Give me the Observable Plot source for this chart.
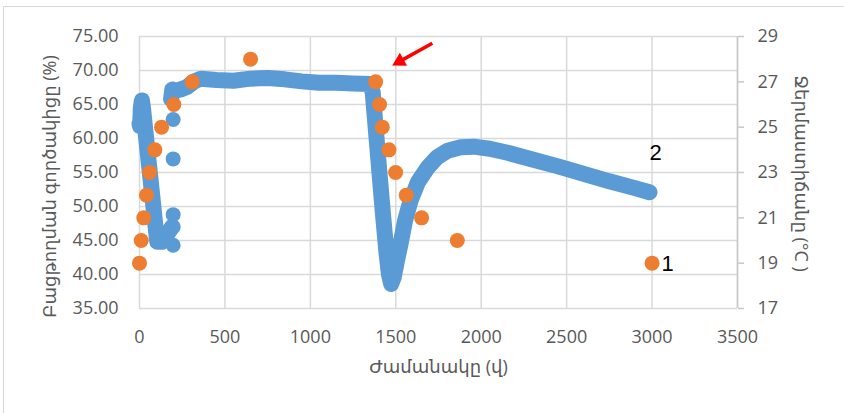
<!DOCTYPE html>
<html>
<head>
<meta charset="utf-8">
<script src="https://cdn.jsdelivr.net/npm/d3@7"></script>
<script src="https://cdn.jsdelivr.net/npm/@observablehq/plot@0.6"></script>
<style>
  html, body { margin: 0; padding: 0; background: #fff; overflow: hidden; }
  #wrap { position: relative; width: 844px; height: 413px; overflow: hidden; }
  #border { position: absolute; left: 3px; top: 6px; width: 900px; height: 500px; border: 1px solid #d9d9d9; pointer-events: none; }
</style>
</head>
<body>
<div id="wrap"><div id="chart"></div><div id="border"></div></div>
<script>
// ---- data ----
const xTicks = [0, 500, 1000, 1500, 2000, 2500, 3000, 3500];
const leftTicks = [35, 40, 45, 50, 55, 60, 65, 70, 75];
const rightTicks = [17, 19, 21, 23, 25, 27, 29];

// blue series (release coefficient, %) – first dense branch
const blueAx = [0, 3, 8, 14, 20, 30, 45, 60, 75, 90, 104, 130, 160, 190];
const blueAy = [62.2, 61.8, 64.5, 65.6, 64.6, 62.2, 58.6, 55.1, 51.5, 47.9, 44.8, 44.8, 45.8, 47.0];
// blue series – second dense branch
const blueBx = [185, 192, 205, 240, 280, 320, 360, 450, 550, 650, 750, 850, 950, 1050, 1150, 1250, 1350, 1365, 1385, 1405, 1425, 1445, 1460, 1473, 1488, 1505, 1528, 1555, 1587, 1630, 1686, 1740, 1803, 1880, 1956, 2050, 2155, 2300, 2450, 2600, 2750, 2900, 2985];
const blueBy = [65.8, 67.2, 67.0, 67.2, 67.6, 68.4, 68.8, 68.6, 68.5, 68.8, 68.9, 68.7, 68.4, 68.2, 68.2, 68.1, 68.0, 66.8, 60.8, 54.8, 48.9, 43.3, 40.0, 38.6, 39.6, 41.8, 44.5, 48.0, 50.9, 53.6, 55.7, 57.2, 58.2, 58.7, 58.8, 58.5, 57.9, 56.9, 55.9, 54.8, 53.7, 52.7, 52.1];
// isolated blue points
const blueDotX = [197, 197, 197, 197, 197];
const blueDotY = [44.3, 47.0, 48.8, 57.0, 62.8];

// orange series (temperature, °C)
const orangeX = [0, 10, 25, 41, 59, 90, 129, 201, 308, 650, 1382, 1405, 1421, 1460, 1499, 1561, 1651, 1860, 3000];
const orangeT = [19, 20, 21, 22, 23, 24, 25, 26, 27, 28, 27, 26, 25, 24, 23, 22, 21, 20, 19];

// annotations
const labelText = ["2", "1"];
const labelX = [3021, 3091];
const labelY = [57.9, 41.6];
const arrowX1 = [1714], arrowY1 = [74.0], arrowX2 = [1523], arrowY2 = [71.34];

const xTitle = "Ժամանակը (վ)";
const yTitle = "Բացթողման գործակիցը (%)";
const y2Title = "Ջերմաստիճանը (°C )";

// ---- helpers ----
const leftDom = [35, 75], rightDom = [17, 29];
const toLeft = t => leftDom[0] + (t - rightDom[0]) * (leftDom[1] - leftDom[0]) / (rightDom[1] - rightDom[0]);
const toRight = v => rightDom[0] + (v - leftDom[0]) * (rightDom[1] - rightDom[0]) / (leftDom[1] - leftDom[0]);

const blueLine = [
  ...blueAx.map((x, i) => ({x, y: blueAy[i], seg: "A"})),
  ...blueBx.map((x, i) => ({x, y: blueBy[i], seg: "B"}))
];
const blueDots = blueDotX.map((x, i) => ({x, y: blueDotY[i]}));
const orange = orangeX.map((x, i) => ({x, t: orangeT[i]}));
const labels = labelText.map((s, i) => ({s, x: labelX[i], y: labelY[i]}));
const arrow = arrowX1.map((x1, i) => ({x1, y1: arrowY1[i], x2: arrowX2[i], y2: arrowY2[i]}));

const BLUE = "#5b9bd5", ORANGE = "#ed7d31", GRID = "#d9d9d9", TXT = "#595959";
const FONT = "'Open Sans', 'Noto Sans', 'DejaVu Sans', sans-serif";

const chart = Plot.plot({
  width: 844,
  height: 413,
  marginLeft: 139,
  marginRight: 107,
  marginTop: 36,
  marginBottom: 105,
  x: {domain: [0, 3500]},
  y: {domain: leftDom},
  style: {fontFamily: FONT, fontSize: "18px", color: TXT, background: "transparent", overflow: "visible"},
  marks: [
    Plot.gridY(leftTicks, {stroke: GRID, strokeOpacity: 1, strokeWidth: 1.5}),
    Plot.gridX(xTicks, {stroke: GRID, strokeOpacity: 1, strokeWidth: 1.5}),
    Plot.ruleX([3500], {stroke: "#c8c8c8", strokeWidth: 1.5}),
    Plot.axisY(leftTicks, {anchor: "left", tickSize: 0, tickPadding: 21, tickFormat: d3.format(".2f"), label: null, fill: TXT}),
    Plot.axisY(rightTicks.map(toLeft), {anchor: "right", tickSize: 6, tickPadding: 14, stroke: "#c8c8c8", strokeWidth: 1.5, tickFormat: v => String(Math.round(toRight(v))), label: null, fill: TXT}),
    Plot.axisX(xTicks, {tickSize: 0, tickPadding: 22, tickFormat: d => String(d), label: null, fill: TXT}),
    Plot.line(blueLine, {x: "x", y: "y", z: "seg", stroke: BLUE, strokeWidth: 16, strokeLinecap: "round", strokeLinejoin: "round"}),
    Plot.dot(blueDots, {x: "x", y: "y", r: 7.5, fill: BLUE}),
    Plot.dot(orange, {x: "x", y: d => toLeft(d.t), r: 7.5, fill: ORANGE}),
    Plot.text(labels, {x: "x", y: "y", text: "s", fill: "#000", fontSize: 22, fontFamily: "'Liberation Sans', sans-serif"}),
    Plot.link(arrow, {x1: "x1", y1: "y1", x2: "x2", y2: "y2", stroke: "#ff0000", strokeWidth: 3.5}),
    Plot.dot(arrow, {x: "x2", y: "y2", symbol: "triangle", r: 5.5, fill: "#ff0000", stroke: "none", rotate: -119}),
    Plot.text([xTitle], {frameAnchor: "bottom", dy: 64, fill: TXT, fontSize: 18}),
    Plot.text([yTitle], {frameAnchor: "left", textAnchor: "middle", dx: -89, dy: 14, rotate: -90, fill: TXT, fontSize: 18}),
    Plot.text([y2Title], {frameAnchor: "right", textAnchor: "middle", dx: 63, dy: 1, rotate: 90, fill: TXT, fontSize: 18})
  ]
});
document.getElementById("chart").appendChild(chart);
</script>
</body>
</html>
